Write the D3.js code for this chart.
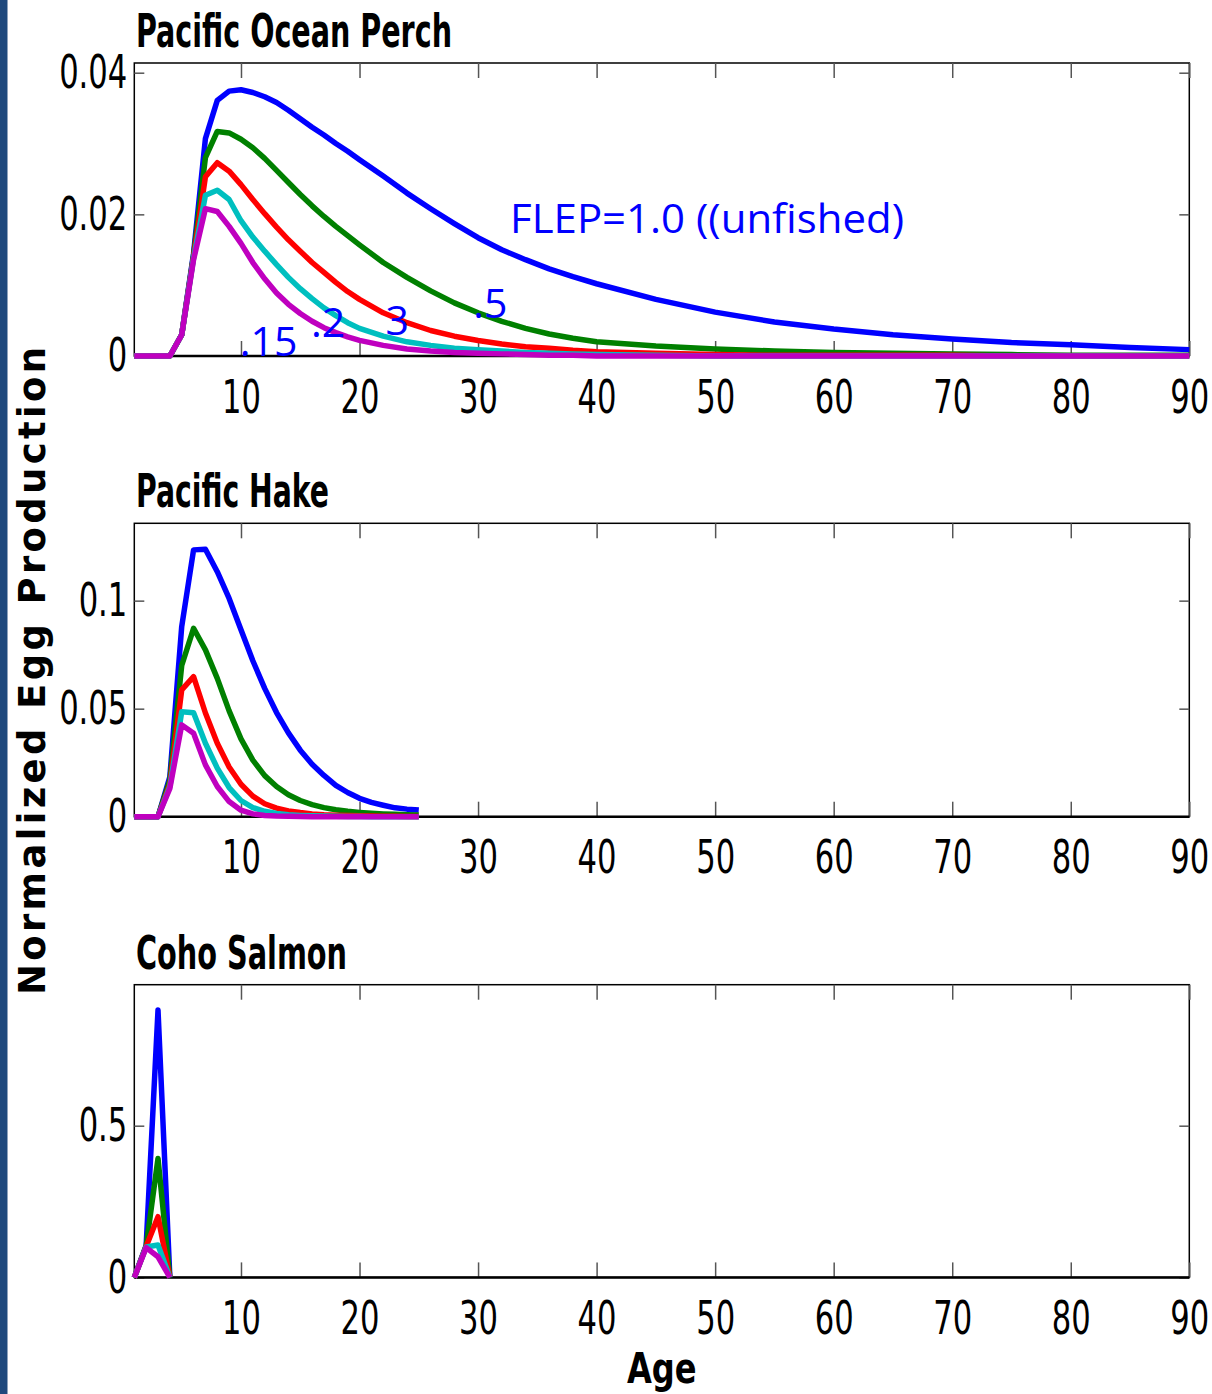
<!DOCTYPE html>
<html>
<head>
<meta charset="utf-8">
<script src="https://cdn.jsdelivr.net/npm/d3@7"></script>
<style>
  html, body { margin: 0; padding: 0; background: #fff; }
  svg { display: block; }
</style>
</head>
<body>
<script>
// ---------------- DATA ----------------
const panelTitles = ["Pacific Ocean Perch", "Pacific Hake", "Coho Salmon"];
const seriesNames = ["FLEP=1.0", "FLEP=0.5", "FLEP=0.3", "FLEP=0.2", "FLEP=0.15"];
const xTickValues = [10, 20, 30, 40, 50, 60, 70, 80, 90];
const xTickLabels = ["10", "20", "30", "40", "50", "60", "70", "80", "90"];

// Pacific Ocean Perch
const popAges = [1,2,3,4,5,6,7,8,9,10,11,12,13,14,15,16,17,18,19,20,
                 22,24,26,28,30,32,34,36,38,40,45,50,55,60,65,70,75,80,85,90];
const popF100 = [0,0,0,0,0.003,0.0145,0.0307,0.0361,0.0374,0.0376,0.0372,0.0366,0.0358,0.0347,0.0335,0.0323,0.0312,0.0300,0.0289,0.0277,
                 0.0254,0.0230,0.0208,0.0187,0.0167,0.0150,0.0136,0.0123,0.0112,0.0102,0.0080,0.0062,0.0048,0.0038,0.0030,0.0024,0.0019,0.0016,0.0012,0.0009];
const popF050 = [0,0,0,0,0.003,0.0142,0.0280,0.0317,0.0315,0.0306,0.0294,0.0279,0.0262,0.0245,0.0228,0.0212,0.0197,0.0183,0.0170,0.0157,
                 0.0132,0.0111,0.0092,0.0075,0.0061,0.0049,0.0039,0.0031,0.0025,0.0020,0.0014,0.0010,0.0007,0.0005,0.0004,0.0003,0.0002,0.0001,0.0001,0.0001];
const popF030 = [0,0,0,0,0.003,0.0140,0.0253,0.0273,0.0261,0.0242,0.0221,0.0201,0.0182,0.0164,0.0148,0.0132,0.0118,0.0104,0.0091,0.0080,
                 0.0061,0.0047,0.0036,0.0028,0.0022,0.0017,0.0013,0.0011,0.0008,0.0006,0.0004,0.0002,0.0001,0.0001,0.0001,0.0001,0,0,0,0];
const popF020 = [0,0,0,0,0.003,0.0138,0.0227,0.0234,0.0221,0.0191,0.0168,0.0148,0.0129,0.0111,0.0095,0.0081,0.0068,0.0057,0.0047,0.0039,
                 0.0028,0.0020,0.0015,0.0011,0.0009,0.0007,0.0005,0.0004,0.0003,0.0002,0.0001,0,0,0,0,0,0,0,0,0];
const popF015 = [0,0,0,0,0.003,0.0136,0.0208,0.0204,0.0183,0.0159,0.0132,0.0109,0.0089,0.0073,0.0060,0.0049,0.0040,0.0033,0.0027,0.0022,
                 0.0015,0.0010,0.0007,0.0005,0.0004,0.0003,0.0002,0.0001,0.0001,0,0,0,0,0,0,0,0,0,0,0];
const popYTicks = [0, 0.02, 0.04];
const popYTickLabels = ["0", "0.02", "0.04"];

// Pacific Hake
const hakeAges = [1,2,3,4,5,6,7,8,9,10,11,12,13,14,15,16,17,18,19,20,21,22,23,24,25];
const hakeF100 = [0,0,0,0.0185,0.088,0.1235,0.1238,0.1134,0.1010,0.0865,0.0722,0.0594,0.0482,0.0388,0.0308,0.0243,0.0191,0.0145,0.0112,0.0085,0.0066,0.0053,0.0041,0.0035,0.0031];
const hakeF050 = [0,0,0,0.0170,0.070,0.0872,0.0772,0.0640,0.0490,0.0360,0.0262,0.0190,0.0140,0.0102,0.0075,0.0056,0.0042,0.0032,0.0025,0.0020,0.0016,0.0013,0.0011,0.0009,0.0008];
const hakeF030 = [0,0,0,0.0150,0.0587,0.0648,0.0480,0.0340,0.0230,0.0150,0.0095,0.0060,0.0040,0.0027,0.0019,0.0013,0.0009,0.0007,0.0005,0.0004,0.0003,0.0002,0.0002,0.0001,0.0001];
const hakeF020 = [0,0,0,0.0140,0.0486,0.0481,0.0340,0.0225,0.0135,0.0075,0.0042,0.0025,0.0015,0.0009,0.0006,0.0004,0.0003,0.0002,0.0001,0.0001,0,0,0,0,0];
const hakeF015 = [0,0,0,0.0131,0.0425,0.0386,0.0240,0.0140,0.0070,0.0030,0.0013,0.0006,0.0003,0.0002,0.0001,0,0,0,0,0,0,0,0,0,0];
const hakeYTicks = [0, 0.05, 0.1];
const hakeYTickLabels = ["0", "0.05", "0.1"];

// Coho Salmon
const cohoAges = [1, 2, 3, 4];
const cohoF100 = [0, 0.105, 0.881, 0];
const cohoF050 = [0, 0.103, 0.392, 0];
const cohoF030 = [0, 0.102, 0.200, 0];
const cohoF020 = [0, 0.100, 0.107, 0];
const cohoF015 = [0, 0.098, 0.068, 0];
const cohoYTicks = [0, 0.5];
const cohoYTickLabels = ["0", "0.5"];

// Annotation labels on the first panel (text, anchor age, anchor value)
const annoTexts = ["FLEP=1.0 ((unfished)", ".5", "3", ".2", ".15"];
const annoAges = [32.7, 29.6, 22.2, 15.9, 9.9];
const annoValues = [0.01737, 0.00537, 0.00297, 0.00273, 0.0];

// ---------------- LAYOUT / STYLE ----------------
const W = 1212, H = 1394;
const colors = ["#0000ff", "#008000", "#ff0000", "#00bfbf", "#bf00bf"];
const narrow = "'Liberation Sans Narrow', 'DejaVu Sans Condensed', 'Arial Narrow', sans-serif";
const left = 134.3, right = 1189.3;
const SX = 0.74; // horizontal squeeze for tick labels

const panels = [
  { title: panelTitles[0], ages: popAges, series: [popF100, popF050, popF030, popF020, popF015],
    yMax: 0.04137, yTicks: popYTicks, yLabels: popYTickLabels, top: 63, bottom: 356, titleLen: 316 },
  { title: panelTitles[1], ages: hakeAges, series: [hakeF100, hakeF050, hakeF030, hakeF020, hakeF015],
    yMax: 0.1358, yTicks: hakeYTicks, yLabels: hakeYTickLabels, top: 523.3, bottom: 816.7, titleLen: 193 },
  { title: panelTitles[2], ages: cohoAges, series: [cohoF100, cohoF050, cohoF030, cohoF020, cohoF015],
    yMax: 0.9647, yTicks: cohoYTicks, yLabels: cohoYTickLabels, top: 984.7, bottom: 1277.4, titleLen: 211 }
];

const svg = d3.select("body").append("svg")
  .attr("width", W).attr("height", H)
  .attr("viewBox", `0 0 ${W} ${H}`);

svg.append("rect").attr("x", 0).attr("y", 0).attr("width", W).attr("height", H).attr("fill", "#fff");
// left decorative bar
svg.append("rect").attr("x", 0).attr("y", 0).attr("width", 7.5).attr("height", H).attr("fill", "#1f497d");

const x = d3.scaleLinear().domain([1, 90]).range([left, right]);

// squeeze a text horizontally around its own anchor using a transform
function squeeze(sel, factor) {
  sel.each(function () {
    const t = d3.select(this);
    const tx = +t.attr("x") || 0;
    const ty = +t.attr("y") || 0;
    t.attr("x", 0).attr("y", 0)
     .attr("transform", `translate(${tx},${ty}) scale(${factor},1)`);
  });
}

panels.forEach((p, pi) => {
  const y = d3.scaleLinear().domain([0, p.yMax]).range([p.bottom, p.top]);
  const g = svg.append("g").attr("class", "panel panel-" + pi);

  // box
  g.append("rect")
    .attr("x", left).attr("y", p.top)
    .attr("width", right - left).attr("height", p.bottom - p.top)
    .attr("fill", "none").attr("stroke", "#000").attr("stroke-width", 1.5);

  const xb = g.append("g").attr("transform", `translate(0,${p.bottom})`)
    .call(d3.axisBottom(x).tickValues(xTickValues).tickFormat((d, i) => xTickLabels[i])
      .tickSizeInner(-15).tickSizeOuter(0).tickPadding(24));
  const xt = g.append("g").attr("transform", `translate(0,${p.top})`)
    .call(d3.axisTop(x).tickValues(xTickValues).tickFormat("").tickSizeInner(-15).tickSizeOuter(0));
  const yl = g.append("g").attr("transform", `translate(${left},0)`)
    .call(d3.axisLeft(y).tickValues(p.yTicks).tickFormat((d, i) => p.yLabels[i])
      .tickSizeInner(-10).tickSizeOuter(0).tickPadding(7));
  const yr = g.append("g").attr("transform", `translate(${right},0)`)
    .call(d3.axisRight(y).tickValues(p.yTicks).tickFormat("").tickSizeInner(-10).tickSizeOuter(0));

  [xb, xt, yl, yr].forEach(a => {
    a.select(".domain").remove();
    a.selectAll(".tick line").attr("stroke", "#555").attr("stroke-width", 1.5);
    a.selectAll(".tick text")
      .attr("fill", "#000")
      .style("font-family", narrow)
      .style("font-size", "46px");
  });
  squeeze(xb.selectAll(".tick text"), SX);
  squeeze(yl.selectAll(".tick text"), SX);

  g.append("line")
    .attr("x1", left).attr("x2", right).attr("y1", p.bottom).attr("y2", p.bottom)
    .attr("stroke", "#000").attr("stroke-width", 2.5);

  // title
  g.append("text")
    .attr("x", 136).attr("y", p.top - 16)
    .attr("textLength", p.titleLen).attr("lengthAdjust", "spacingAndGlyphs")
    .style("font-family", narrow).style("font-weight", "bold").style("font-size", "46px")
    .attr("fill", "#000")
    .text(p.title);

  // lines
  const line = d3.line().x((d, i) => x(p.ages[i])).y(d => y(d));
  p.series.forEach((vals, si) => {
    g.append("path")
      .datum(vals)
      .attr("d", line)
      .attr("fill", "none")
      .attr("stroke", colors[si])
      .attr("stroke-width", 5.5)
      .attr("stroke-linejoin", "round")
      .attr("stroke-linecap", "butt")
      .attr("data-series", seriesNames[si]);
  });
});

// annotations on first panel
{
  const p = panels[0];
  const y = d3.scaleLinear().domain([0, p.yMax]).range([p.bottom, p.top]);
  annoTexts.forEach((t, i) => {
    const el = svg.append("text")
      .attr("x", x(annoAges[i])).attr("y", y(annoValues[i]))
      .attr("fill", "#0000ff")
      .style("font-family", "'Open Sans', 'Noto Sans', sans-serif")
      .style("font-size", "41px")
      .text(t);
    if (i === 0) el.attr("textLength", 394).attr("lengthAdjust", "spacingAndGlyphs");
  });
}

// axis labels
svg.append("text")
  .attr("transform", "translate(45,671) rotate(-90)")
  .attr("text-anchor", "middle")
  .attr("textLength", 648).attr("lengthAdjust", "spacing")
  .style("font-family", "'DejaVu Sans', sans-serif")
  .style("font-weight", "bold").style("font-size", "37px")
  .attr("fill", "#000")
  .text("Normalized Egg Production");

const ageLabel = svg.append("text")
  .attr("x", (left + right) / 2).attr("y", 1383)
  .attr("text-anchor", "middle")
  .style("font-family", narrow).style("font-weight", "bold").style("font-size", "42px")
  .attr("fill", "#000")
  .text("Age");
squeeze(ageLabel, 0.85);
</script>
</body>
</html>
